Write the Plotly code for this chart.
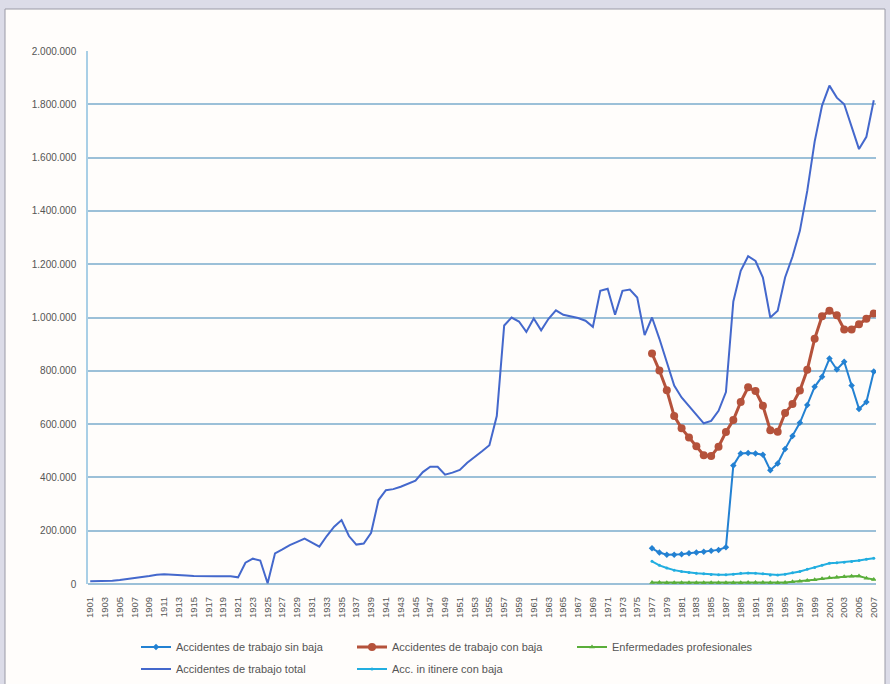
import plotly.graph_objects as go

# ---------------- data (values in thousands) ----------------
years_total = list(range(1901, 2008))
total_k = [
    10, 10, 11, 12, 15, 18, 22, 26, 30, 35,          # 1901-1910
    37, 36, 34, 32, 30, 29, 29, 29, 29, 29,          # 1911-1920
    25, 80, 95, 88, 3, 115, 130, 146, 158, 170,      # 1921-1930
    155, 140, 180, 215, 240, 180, 148, 152, 192, 315,  # 1931-1940
    352, 356, 365, 375, 388, 420, 440, 440, 410, 418,  # 1941-1950
    428, 455, 475, 498, 521, 630, 970, 1000, 985, 946,  # 1951-1960
    996, 952, 995, 1027, 1010, 1004, 998, 988, 965, 1100,  # 1961-1970
    1108, 1010, 1100, 1105, 1075, 934, 1000, 920, 835, 745,  # 1971-1980
    700, 668, 632, 603, 612, 650, 720, 1060, 1175, 1230,  # 1981-1990
    1212, 1150, 1000, 1025, 1150, 1228, 1325, 1475, 1660, 1795,  # 1991-2000
    1870, 1825, 1800, 1712, 1632, 1678, 1815,        # 2001-2007
]

years_recent = list(range(1977, 2008))
con_baja_k = [
    865, 801, 727, 630, 584, 550, 517, 483, 480, 515,
    570, 615, 683, 738, 724, 669, 577, 571, 642, 675,
    726, 804, 920, 1005, 1025, 1008, 955, 955, 975, 995,
    1015,
]
sin_baja_k = [
    134, 118, 110, 110, 112, 115, 118, 121, 125, 128,
    138, 445, 490, 492, 490, 485, 427, 452, 507, 555,
    605, 672, 740, 778, 846, 805, 834, 745, 657, 683,
    797,
]
itinere_k = [
    85, 70, 60, 52, 47, 43, 40, 38, 36, 35,
    35, 37, 40, 41, 40, 38, 34, 34, 37, 42,
    47, 55, 62, 70, 78, 80, 82, 84, 88, 93,
    97,
]
enfermedades_k = [
    6, 6, 5, 5, 5, 5, 5, 5, 5, 5,
    5, 5, 5, 6, 6, 6, 5, 5, 6, 8,
    10, 13, 16, 20, 23, 25, 27, 29, 30, 22,
    17,
]

y_ticks = [0, 200000, 400000, 600000, 800000, 1000000, 1200000,
           1400000, 1600000, 1800000, 2000000]
y_tick_labels = ["0", "200.000", "400.000", "600.000", "800.000", "1.000.000",
                 "1.200.000", "1.400.000", "1.600.000", "1.800.000", "2.000.000"]
x_ticks = list(range(1901, 2008, 2))
x_tick_labels = [str(y) for y in x_ticks]


def scale(v):
    return [x * 1000 for x in v]


# ---------------- layout geometry ----------------
W, H = 890, 684
L, R, T, B = 88, 14, 51, 100
PW, PH = W - L - R, H - T - B


def px_x(px):
    return (px - L) / PW


def px_y(py):
    return (H - B - py) / PH


FONT = "Liberation Sans, Arial, sans-serif"

fig = go.Figure()

fig.add_trace(go.Scatter(
    x=years_recent, y=scale(sin_baja_k), name="Accidentes de trabajo sin baja",
    mode="lines+markers", line=dict(color="#2381d2", width=2),
    marker=dict(symbol="diamond", size=5, color="#2381d2"),
    legend="legend",
))
fig.add_trace(go.Scatter(
    x=years_recent, y=scale(con_baja_k), name="Accidentes de trabajo con baja",
    mode="lines+markers", line=dict(color="#b5523b", width=3),
    marker=dict(symbol="circle", size=8, color="#b5523b"),
    legend="legend2",
))
fig.add_trace(go.Scatter(
    x=years_recent, y=scale(enfermedades_k), name="Enfermedades profesionales",
    mode="lines+markers", line=dict(color="#5aae3a", width=2),
    marker=dict(symbol="triangle-up", size=5, color="#5aae3a"),
    legend="legend3",
))
fig.add_trace(go.Scatter(
    x=years_total, y=scale(total_k), name="Accidentes de trabajo total",
    mode="lines", line=dict(color="#4468cc", width=2),
    legend="legend4",
))
fig.add_trace(go.Scatter(
    x=years_recent, y=scale(itinere_k), name="Acc. in itinere con baja",
    mode="lines+markers", line=dict(color="#22aee0", width=2),
    marker=dict(symbol="circle", size=3, color="#22aee0"),
    legend="legend5",
))


def leg(px, py):
    return dict(
        orientation="v", x=px_x(px), xanchor="left",
        y=px_y(py), yanchor="middle",
        font=dict(family=FONT, size=11, color="#555"),
        bgcolor="rgba(0,0,0,0)", borderwidth=0, itemwidth=30,
    )


fig.update_layout(
    width=W, height=H,
    margin=dict(l=L, r=R, t=T, b=B, pad=0, autoexpand=False),
    paper_bgcolor="#dcdce8",
    plot_bgcolor="rgba(0,0,0,0)",
    font=dict(family=FONT, size=10, color="#555"),
    showlegend=True,
    legend=leg(136, 647),
    legend2=leg(352, 647),
    legend3=leg(572, 647),
    legend4=leg(136, 669),
    legend5=leg(352, 669),
    shapes=[dict(
        type="rect", xref="paper", yref="paper", layer="below",
        x0=px_x(5), x1=px_x(885), y0=px_y(700), y1=px_y(9),
        fillcolor="#fffdfb", line=dict(color="#9a9aa6", width=1),
    )],
)

fig.update_xaxes(
    type="linear", range=[1900.7, 2007.3],
    tickmode="array", tickvals=x_ticks, ticktext=x_tick_labels,
    tickangle=-90, tickfont=dict(size=9.5, color="#555"),
    showgrid=False, zeroline=False,
    showline=False, ticks="", automargin=False, ticklabelstandoff=10,
)
fig.update_yaxes(
    range=[0, 2000000], tickmode="array", tickvals=y_ticks, ticktext=y_tick_labels,
    tickfont=dict(size=10, color="#555"),
    showgrid=True, gridcolor="#9cc0d8", gridwidth=1.5,
    zeroline=True, zerolinecolor="#9cc0d8", zerolinewidth=1.5,
    showline=True, linecolor="#a9cfe6", linewidth=1.5,
    ticks="", ticklabelstandoff=8, automargin=False,
)

fig.write_html(
    "out.html",
    config={"displayModeBar": False},
    post_script="document.body.style.margin='0';document.body.style.overflow='hidden';",
)
